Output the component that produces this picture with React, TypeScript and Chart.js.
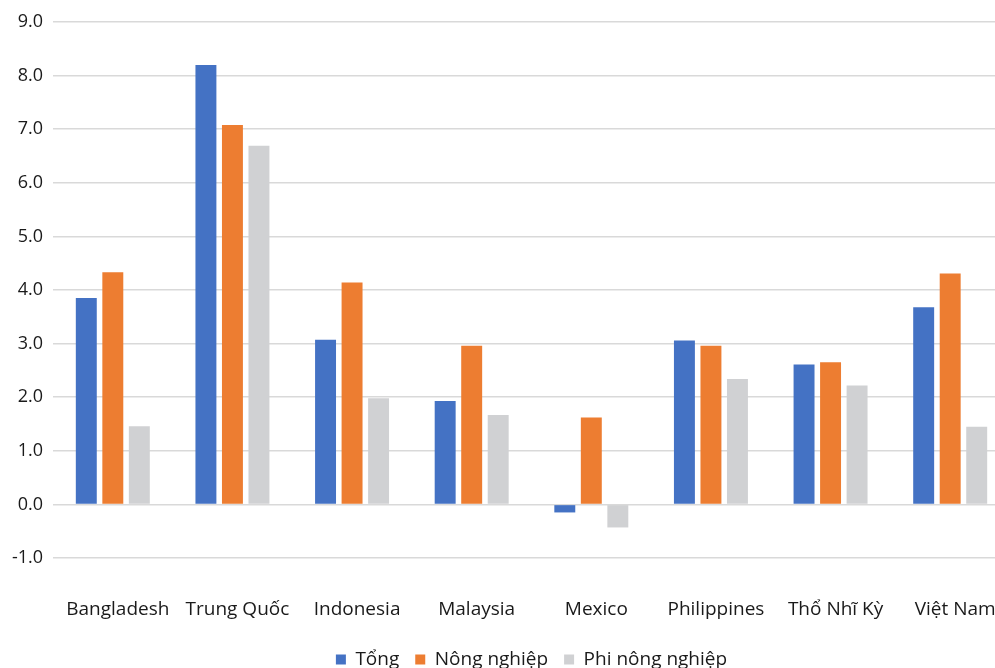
import React, { useEffect, useRef } from "react";
import { Chart, registerables } from "chart.js";

Chart.register(...registerables);

const categories = [
  "Bangladesh",
  "Trung Quốc",
  "Indonesia",
  "Malaysia",
  "Mexico",
  "Philippines",
  "Thổ Nhĩ Kỳ",
  "Việt Nam",
];

const tong = [3.85, 8.2, 3.07, 1.93, -0.15, 3.06, 2.61, 3.68];
const nongNghiep = [4.33, 7.08, 4.14, 2.96, 1.62, 2.96, 2.65, 4.31];
const phiNongNghiep = [1.46, 6.69, 1.98, 1.67, -0.43, 2.34, 2.22, 1.45];

const seriesNames = ["Tổng", "Nông nghiệp", "Phi nông nghiệp"];
const seriesColors = ["#4472C4", "#ED7D31", "#D0D1D3"];

const FONT = "'Open Sans', 'Noto Sans', sans-serif";
const TEXT = "#1a1a1a";
const W = 1012;
const H = 679;

export default function App() {
  const ref = useRef<HTMLCanvasElement | null>(null);

  useEffect(() => {
    if (!ref.current) return;
    const values = [tong, nongNghiep, phiNongNghiep];
    const chart = new Chart(ref.current, {
      type: "bar",
      data: {
        labels: categories,
        datasets: values.map((v, i) => ({
          label: seriesNames[i],
          data: v,
          backgroundColor: seriesColors[i],
          borderWidth: 0,
          categoryPercentage: 0.665,
          barPercentage: 0.79,
        })),
      },
      options: {
        responsive: false,
        animation: false,
        devicePixelRatio: 1,
        layout: { padding: { top: 22, left: 0, right: 2, bottom: 0 } },
        plugins: {
          tooltip: { enabled: false },
          legend: {
            position: "bottom",
            fullSize: false,
            labels: {
              font: { family: FONT, size: 19 },
              color: TEXT,
              boxWidth: 10,
              boxHeight: 10,
              padding: 16,
            },
          },
        },
        scales: {
          x: {
            grid: { display: false, drawTicks: false },
            border: { display: false },
            ticks: {
              font: { family: FONT, size: 19 },
              color: TEXT,
              padding: 40,
              labelOffset: 5,
              maxRotation: 0,
              autoSkip: false,
            },
            afterFit: (s: any) => {
              s.height = 76;
              s.paddingLeft = 0;
              s.paddingRight = 0;
            },
          },
          y: {
            min: -1,
            max: 9,
            grid: { color: "#D9D9D9", lineWidth: 1.5, drawTicks: false },
            border: { display: false },
            ticks: {
              stepSize: 1,
              font: { family: FONT, size: 18 },
              color: TEXT,
              padding: 10,
              callback: (v: any) => Number(v).toFixed(1),
            },
            afterFit: (s: any) => {
              s.width = 53;
            },
          },
        },
      },
    });
    return () => chart.destroy();
  }, []);

  return (
    <div style={{ position: "fixed", left: 0, top: 0, width: W, height: H, background: "#fff" }}>
      <canvas ref={ref} width={W} height={H} />
    </div>
  );
}
